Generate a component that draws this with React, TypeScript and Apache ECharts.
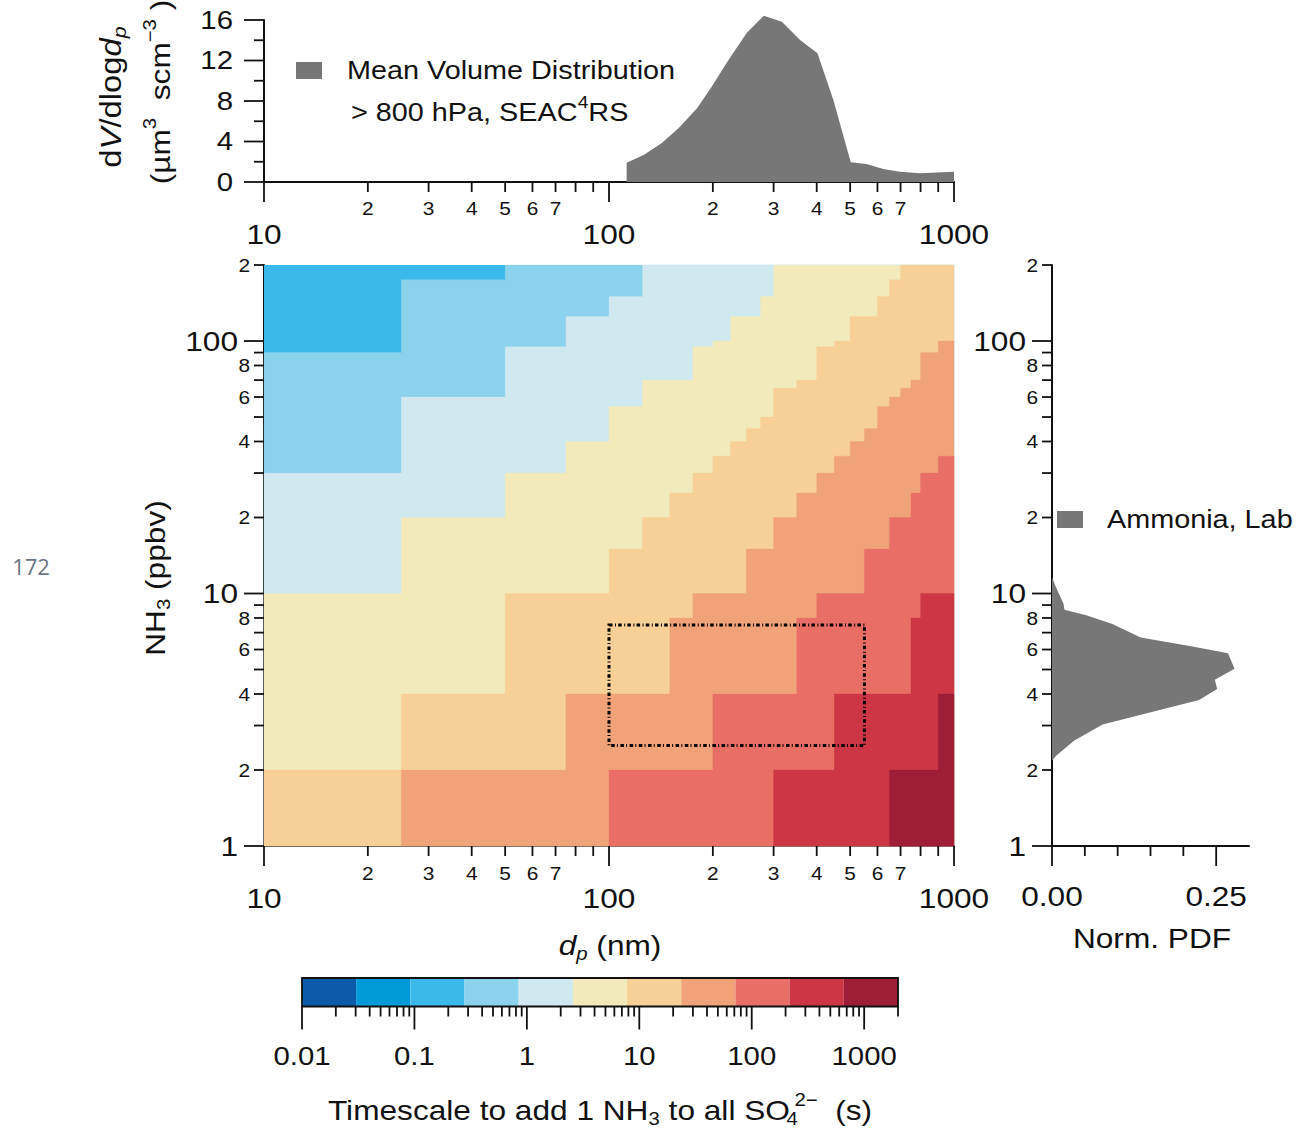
import React, { useEffect, useRef } from 'react';
import * as echarts from 'echarts';

const FONT = '"Liberation Sans", Arial, Helvetica, sans-serif';
const SX = 1.13;
const INK = '#111111';
const AREA = '#777777';

// ---- colour levels (colorbar bins), dark blue -> dark red
const levelColors = ['#0b5ba8', '#009ad8', '#3cb9eb', '#8bd2ec', '#d0e8ef', '#f2eabb', '#f7d097', '#f0a378', '#e96f66', '#cd3745', '#9e1d37'];
const colorbarEdges = [0.01, 0.0303, 0.092, 0.279, 0.846, 2.57, 7.78, 23.6, 71.6, 217, 659, 2000];

// ---- heatmap: base level everywhere, then nested regions (below/right of each staircase)
const heatBaseLevel = 2;
const boundary3 = [[10, 90], [25, 90], [25, 175], [50, 175], [50, 200]];
const boundary4 = [[10, 30], [25, 30], [25, 60], [50, 60], [50, 95], [75, 95], [75, 125], [100, 125], [100, 150], [125, 150], [125, 200]];
const boundary5 = [[10, 10], [25, 10], [25, 20], [50, 20], [50, 30], [75, 30], [75, 40], [100, 40], [100, 55], [125, 55], [125, 70], [175, 70], [175, 95], [200, 95], [200, 100], [225, 100], [225, 125], [275, 125], [275, 150], [300, 150], [300, 200]];
const boundary6 = [[10, 2], [25, 2], [25, 4], [50, 4], [50, 10], [100, 10], [100, 15], [125, 15], [125, 20], [150, 20], [150, 25], [175, 25], [175, 30], [200, 30], [200, 35], [225, 35], [225, 40], [250, 40], [250, 45], [275, 45], [275, 50], [300, 50], [300, 65], [350, 65], [350, 70], [400, 70], [400, 95], [450, 95], [450, 100], [500, 100], [500, 125], [600, 125], [600, 150], [650, 150], [650, 175], [700, 175], [700, 200]];
const boundary7 = [[25, 1], [25, 2], [75, 2], [75, 4], [150, 4], [150, 8], [175, 8], [175, 10], [250, 10], [250, 15], [300, 15], [300, 20], [350, 20], [350, 25], [400, 25], [400, 30], [450, 30], [450, 35], [500, 35], [500, 40], [550, 40], [550, 45], [600, 45], [600, 55], [650, 55], [650, 60], [700, 60], [700, 65], [750, 65], [750, 70], [800, 70], [800, 90], [900, 90], [900, 100], [1000, 100]];
const boundary8 = [[100, 1], [100, 2], [200, 2], [200, 4], [350, 4], [350, 8], [400, 8], [400, 10], [550, 10], [550, 15], [650, 15], [650, 20], [750, 20], [750, 25], [800, 25], [800, 30], [900, 30], [900, 35], [1000, 35]];
const boundary9 = [[300, 1], [300, 2], [450, 2], [450, 4], [750, 4], [750, 8], [800, 8], [800, 10], [1000, 10]];
const boundary10 = [[650, 1], [650, 2], [900, 2], [900, 4], [1000, 4]];
const heatBoundaries = [boundary3, boundary4, boundary5, boundary6, boundary7, boundary8, boundary9, boundary10];
const heatBoundaryLevels = [3, 4, 5, 6, 7, 8, 9, 10];

// dash-dot box
const boxDp = [100, 550];
const boxNH3 = [2.5, 7.5];

// ---- mean volume distribution (top panel)
const volDp = [112.5, 126, 142, 159, 180, 198, 222, 251, 281, 317, 358, 402, 447, 502, 558, 624, 697, 797, 1000];
const volDv = [1.9, 2.67, 3.82, 5.3, 7.28, 9.35, 12.05, 14.75, 16.43, 15.83, 14.02, 12.71, 8.1, 1.94, 1.78, 1.28, 1.02, 0.86, 1.02];

// ---- ammonia PDF (right panel)
const pdfNH3 = [2.18, 2.28, 2.62, 3.03, 3.35, 3.79, 4.19, 4.55, 5.04, 5.8, 6.17, 6.69, 7.57, 8.21, 8.62, 9.09, 10.5, 11.6];
const pdfVal = [0, 0.0067, 0.034, 0.077, 0.143, 0.224, 0.2515, 0.248, 0.278, 0.268, 0.214, 0.135, 0.092, 0.052, 0.019, 0.0177, 0.0067, 0];

// ---- ticks
const xMajor = [10, 100, 1000];
const xMajorLabels = ['10', '100', '1000'];
const xMinor = [20, 30, 40, 50, 60, 70, 80, 90, 200, 300, 400, 500, 600, 700, 800, 900];
const xMinorLabels = ['2', '3', '4', '5', '6', '7', '', '', '2', '3', '4', '5', '6', '7', '', ''];
const yMajor = [1, 10, 100];
const yMajorLabels = ['1', '10', '100'];
const yMinor = [2, 3, 4, 5, 6, 7, 8, 9, 20, 30, 40, 50, 60, 70, 80, 90, 200];
const yMinorLabels = ['2', '', '4', '', '6', '', '8', '', '2', '', '4', '', '6', '', '8', '', '2'];
const topYMajor = [0, 4, 8, 12, 16];
const topYMajorLabels = ['0', '4', '8', '12', '16'];
const topYMinor = [2, 6, 10, 14];
const pdfMajor = [0, 0.25];
const pdfMajorLabels = ['0.00', '0.25'];
const pdfMinor = [0.05, 0.1, 0.15, 0.2];
const cbMajor = [0.01, 0.1, 1, 10, 100, 1000];
const cbMajorLabels = ['0.01', '0.1', '1', '10', '100', '1000'];
const cbMinor = [0.02, 0.03, 0.04, 0.05, 0.06, 0.07, 0.08, 0.09, 0.2, 0.3, 0.4, 0.5, 0.6, 0.7, 0.8, 0.9, 2, 3, 4, 5, 6, 7, 8, 9, 20, 30, 40, 50, 60, 70, 80, 90, 200, 300, 400, 500, 600, 700, 800, 900, 2000];

function txtStyle(text: string, fs: number, align: string) {
  return {
    text, fill: INK, fontSize: fs, fontFamily: FONT,
    align, textAlign: align, verticalAlign: 'middle', textVerticalAlign: 'middle',
  };
}

type TickCfg = { xi: number; yi: number; vals: number[]; labels: string[]; side: 'bottom' | 'left'; base: number; len: number; fs: number; off: number };

function tickSeries(c: TickCfg) {
  return {
    type: 'custom', xAxisIndex: c.xi, yAxisIndex: c.yi, silent: true, z: 20,
    data: c.vals.map((v) => (c.side === 'bottom' ? [v, c.base] : [c.base, v])),
    renderItem: (params: any, api: any) => {
      const v = c.vals[params.dataIndex];
      const p = api.coord(c.side === 'bottom' ? [v, c.base] : [c.base, v]);
      const lab = c.labels[params.dataIndex];
      const children: any[] = [];
      if (c.side === 'bottom') {
        children.push({ type: 'line', shape: { x1: p[0], y1: p[1], x2: p[0], y2: p[1] + c.len }, style: { stroke: INK, lineWidth: 1.8 } });
        if (lab) children.push({ type: 'text', x: p[0], y: p[1] + c.off, scaleX: SX, style: txtStyle(lab, c.fs, 'center') });
      } else {
        children.push({ type: 'line', shape: { x1: p[0], y1: p[1], x2: p[0] - c.len, y2: p[1] }, style: { stroke: INK, lineWidth: 1.8 } });
        if (lab) children.push({ type: 'text', x: p[0] - c.off, y: p[1], scaleX: SX, style: txtStyle(lab, c.fs, 'right') });
      }
      return { type: 'group', children };
    },
  };
}

function richBase(fs: number) {
  const sub = Math.round(fs * 0.66);
  return {
    n: { fontSize: fs, fontFamily: FONT, lineHeight: fs + 10, verticalAlign: 'middle' },
    i: { fontSize: fs, fontFamily: FONT, fontStyle: 'italic', lineHeight: fs + 10, verticalAlign: 'middle' },
    sub: { fontSize: sub, fontFamily: FONT, lineHeight: sub + 2, padding: [Math.round(fs * 0.6), 0, 0, 0], verticalAlign: 'middle' },
    isub: { fontSize: sub, fontFamily: FONT, fontStyle: 'italic', lineHeight: sub + 2, padding: [Math.round(fs * 0.6), 0, 0, 0], verticalAlign: 'middle' },
    subn: { fontSize: sub, fontFamily: FONT, lineHeight: sub + 2, padding: [Math.round(fs * 0.6), 0, 0, 0], width: 4, verticalAlign: 'middle' },
    sup: { fontSize: sub, fontFamily: FONT, lineHeight: sub + 2, padding: [0, 0, Math.round(fs * 0.75), 0], verticalAlign: 'middle' },
  };
}

function richText(x: number, y: number, text: string, fs: number, align: string, rotation = 0, sx = SX) {
  return {
    type: 'text', x, y, rotation, scaleX: sx, silent: true, z: 50,
    style: {
      text, rich: richBase(fs), fill: INK, fontSize: fs, fontFamily: FONT,
      align, textAlign: align, verticalAlign: 'middle', textVerticalAlign: 'middle',
    },
  };
}

const noAxisParts = { axisTick: { show: false }, axisLabel: { show: false }, splitLine: { show: false } };
const lineOn = { show: true, onZero: false, lineStyle: { color: INK, width: 2 } };

export default function App() {
  const ref = useRef<HTMLDivElement>(null);
  useEffect(() => {
    if (!ref.current) return;
    const chart = echarts.init(ref.current, undefined, { renderer: 'svg' });

    const heatSeries = {
      type: 'custom', xAxisIndex: 1, yAxisIndex: 1, silent: true, z: 1,
      data: [0, ...heatBoundaries.map((_, i) => i + 1)].map(() => [10, 1]),
      renderItem: (params: any, api: any) => {
        const i = params.dataIndex;
        if (i === 0) {
          const a = api.coord([10, 200]);
          const b = api.coord([1000, 1]);
          return { type: 'rect', shape: { x: a[0], y: a[1], width: b[0] - a[0], height: b[1] - a[1] }, style: { fill: levelColors[heatBaseLevel] } };
        }
        const pts = heatBoundaries[i - 1].map((p) => [p[0], p[1]]);
        const first = pts[0];
        const last = pts[pts.length - 1];
        if (last[0] < 1000) pts.push([1000, 200]);
        pts.push([1000, 1]);
        if (first[1] > 1) pts.push([10, 1]);
        return { type: 'polygon', shape: { points: pts.map((p) => api.coord(p)) }, style: { fill: levelColors[heatBoundaryLevels[i - 1]], stroke: levelColors[heatBoundaryLevels[i - 1]], lineWidth: 0.3 } };
      },
    };

    const boxSeries = {
      type: 'custom', xAxisIndex: 1, yAxisIndex: 1, silent: true, z: 5,
      data: [[boxDp[0], boxNH3[0]]],
      renderItem: (_p: any, api: any) => {
        const a = api.coord([boxDp[0], boxNH3[1]]);
        const b = api.coord([boxDp[1], boxNH3[0]]);
        return { type: 'rect', shape: { x: a[0], y: a[1], width: b[0] - a[0], height: b[1] - a[1] }, style: { fill: 'none', stroke: '#000', lineWidth: 3, lineDash: [3.5, 2.5, 1, 2.2] } };
      },
    };

    const volSeries = {
      type: 'custom', xAxisIndex: 0, yAxisIndex: 0, silent: true, z: 2,
      data: [[volDp[0], volDv[0]]],
      renderItem: (_p: any, api: any) => {
        const pts = volDp.map((d, k) => api.coord([d, volDv[k]]));
        pts.push(api.coord([volDp[volDp.length - 1], 0]));
        pts.push(api.coord([volDp[0], 0]));
        return { type: 'polygon', shape: { points: pts }, style: { fill: AREA } };
      },
    };

    const pdfSeries = {
      type: 'custom', xAxisIndex: 2, yAxisIndex: 2, silent: true, z: 2,
      data: [[pdfVal[0], pdfNH3[0]]],
      renderItem: (_p: any, api: any) => {
        const pts = pdfVal.map((v, k) => api.coord([v, pdfNH3[k]]));
        return { type: 'polygon', shape: { points: pts }, style: { fill: AREA } };
      },
    };

    const cbSeries = {
      type: 'custom', xAxisIndex: 3, yAxisIndex: 3, silent: true, z: 2,
      data: levelColors.map((_, i) => [colorbarEdges[i], 0]),
      renderItem: (params: any, api: any) => {
        const i = params.dataIndex;
        const a = api.coord([colorbarEdges[i], 1]);
        const b = api.coord([colorbarEdges[i + 1], 0]);
        return { type: 'rect', shape: { x: a[0], y: a[1], width: b[0] - a[0], height: b[1] - a[1] }, style: { fill: levelColors[i] } };
      },
    };

    const cbBorder = {
      type: 'custom', xAxisIndex: 3, yAxisIndex: 3, silent: true, z: 6,
      data: [[colorbarEdges[0], 0]],
      renderItem: (_p: any, api: any) => {
        const a = api.coord([colorbarEdges[0], 1]);
        const b = api.coord([colorbarEdges[colorbarEdges.length - 1], 0]);
        return { type: 'rect', shape: { x: a[0], y: a[1], width: b[0] - a[0], height: b[1] - a[1] }, style: { fill: 'none', stroke: INK, lineWidth: 1.8 } };
      },
    };

    const option: any = {
      animation: false,
      backgroundColor: '#ffffff',
      grid: [
        { left: 264, top: 20, width: 690, height: 162 },
        { left: 264, top: 265, width: 690, height: 581 },
        { left: 1052, top: 265, width: 197, height: 581 },
        { left: 302, top: 978, width: 596, height: 28.5 },
      ],
      xAxis: [
        { gridIndex: 0, type: 'log', logBase: 10, min: 10, max: 1000, axisLine: lineOn, ...noAxisParts },
        { gridIndex: 1, type: 'log', logBase: 10, min: 10, max: 1000, axisLine: lineOn, ...noAxisParts },
        { gridIndex: 2, type: 'value', min: 0, max: 0.3, axisLine: lineOn, ...noAxisParts },
        { gridIndex: 3, type: 'log', logBase: 10, min: 0.01, max: 2000, axisLine: { show: false }, ...noAxisParts },
      ],
      yAxis: [
        { gridIndex: 0, type: 'value', min: 0, max: 16, axisLine: lineOn, ...noAxisParts },
        { gridIndex: 1, type: 'log', logBase: 10, min: 1, max: 200, axisLine: lineOn, ...noAxisParts },
        { gridIndex: 2, type: 'log', logBase: 10, min: 1, max: 200, axisLine: lineOn, ...noAxisParts },
        { gridIndex: 3, type: 'value', min: 0, max: 1, axisLine: { show: false }, ...noAxisParts },
      ],
      series: [
        heatSeries, boxSeries, volSeries, pdfSeries, cbSeries, cbBorder,
        // top panel
        tickSeries({ xi: 0, yi: 0, vals: xMajor, labels: xMajorLabels, side: 'bottom', base: 0, len: 20, fs: 28, off: 52 }),
        tickSeries({ xi: 0, yi: 0, vals: xMinor, labels: xMinorLabels, side: 'bottom', base: 0, len: 10, fs: 18.5, off: 26 }),
        tickSeries({ xi: 0, yi: 0, vals: topYMajor, labels: topYMajorLabels, side: 'left', base: 10, len: 20, fs: 26, off: 31 }),
        tickSeries({ xi: 0, yi: 0, vals: topYMinor, labels: ['', '', '', ''], side: 'left', base: 10, len: 10, fs: 18, off: 14 }),
        // main panel
        tickSeries({ xi: 1, yi: 1, vals: xMajor, labels: xMajorLabels, side: 'bottom', base: 1, len: 20, fs: 28, off: 52 }),
        tickSeries({ xi: 1, yi: 1, vals: xMinor, labels: xMinorLabels, side: 'bottom', base: 1, len: 10, fs: 18.5, off: 27 }),
        tickSeries({ xi: 1, yi: 1, vals: yMajor, labels: yMajorLabels, side: 'left', base: 10, len: 20, fs: 28, off: 26 }),
        tickSeries({ xi: 1, yi: 1, vals: yMinor, labels: yMinorLabels, side: 'left', base: 10, len: 10, fs: 18.5, off: 14 }),
        // right panel
        tickSeries({ xi: 2, yi: 2, vals: pdfMajor, labels: pdfMajorLabels, side: 'bottom', base: 1, len: 20, fs: 28, off: 50 }),
        tickSeries({ xi: 2, yi: 2, vals: pdfMinor, labels: ['', '', '', ''], side: 'bottom', base: 1, len: 10, fs: 18, off: 26 }),
        tickSeries({ xi: 2, yi: 2, vals: yMajor, labels: yMajorLabels, side: 'left', base: 0, len: 20, fs: 28, off: 26 }),
        tickSeries({ xi: 2, yi: 2, vals: yMinor, labels: yMinorLabels, side: 'left', base: 0, len: 10, fs: 18.5, off: 14 }),
        // colorbar
        tickSeries({ xi: 3, yi: 3, vals: cbMajor, labels: cbMajorLabels, side: 'bottom', base: 0, len: 23, fs: 26, off: 50 }),
        tickSeries({ xi: 3, yi: 3, vals: cbMinor, labels: cbMinor.map(() => ''), side: 'bottom', base: 0, len: 10, fs: 18, off: 26 }),
      ],
      graphic: {
        elements: [
          { type: 'rect', shape: { x: 296, y: 62, width: 26, height: 17 }, style: { fill: AREA }, silent: true },
          richText(347, 70.5, '{n|Mean Volume Distribution}', 25.5, 'left'),
          richText(351, 112, '{n|> 800 hPa, SEAC}{sup|4}{n|RS}', 25.5, 'left'),
          { type: 'rect', shape: { x: 1057, y: 511, width: 26, height: 17 }, style: { fill: AREA }, silent: true },
          richText(1107, 519.5, '{n|Ammonia, Lab}', 25.5, 'left'),
          richText(610, 945, '{i|d}{isub|p}{n| (nm)}', 28, 'center'),
          richText(1152, 938, '{n|Norm. PDF}', 28, 'center'),
          richText(155, 578, '{n|NH}{sub|3}{n| (ppbv)}', 28, 'center', Math.PI / 2),
          richText(111, 97, '{n|d}{i|V}{n|/dlog}{i|d}{isub|p}', 29, 'center', Math.PI / 2),
          richText(160, 92, '{n|(µm}{sup|3}{n|  scm}{sup|−3}{n| )}', 28, 'center', Math.PI / 2),
          richText(600, 1110, '{n|Timescale to add 1 NH}{sub|3}{n| to all SO}{subn|4}{sup|2−}{n|  (s)}', 28, 'center'),
          { type: 'text', x: 31, y: 566, silent: true, style: { text: '172', fill: '#6b7486', fontSize: 22, fontFamily: '"Open Sans", "Noto Sans", sans-serif', align: 'center', textAlign: 'center', verticalAlign: 'middle', textVerticalAlign: 'middle' } },
        ],
      },
    };

    chart.setOption(option);
    return () => chart.dispose();
  }, []);

  return <div ref={ref} style={{ position: 'absolute', left: 0, top: 0, width: 1300, height: 1132, background: '#fff' }} />;
}
